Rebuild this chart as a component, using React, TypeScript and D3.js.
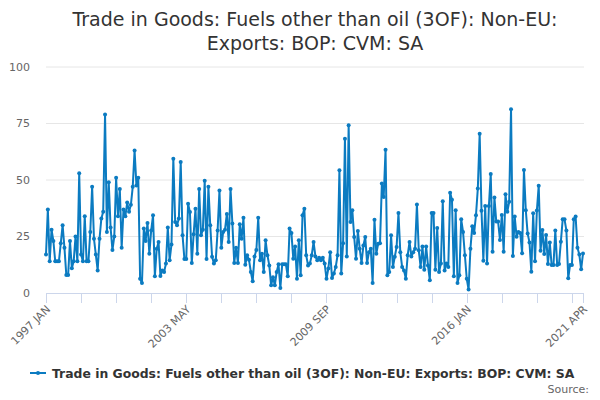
import React from 'react';
import * as d3 from 'd3';

// monthly series, 1997 JAN .. 2021 APR
const values1997to2000 = [
  17, 37, 14, 28, 23, 14, 14, 14, 22, 30, 20, 8,
  8, 23, 11, 14, 25, 14, 53, 17, 14, 34, 14, 14,
  27, 47, 24, 17, 10, 24, 33, 36, 79, 27, 49, 29,
  19, 25, 51, 34, 46, 20, 37, 34, 40, 36, 39, 47,
];
const values2001to2004 = [
  63, 47.6, 51, 6.3, 4.4, 28.5, 23, 31, 17.4, 27.7, 34.4, 7.4,
  19.6, 22.6, 7.5, 10, 9.3, 13, 29, 14.5, 21.5, 59.4, 31.4, 30,
  33, 58, 25.5, 15, 15, 39.5, 35.8, 13.3, 26, 37.3, 17.4, 46,
  25.5, 28, 49.7, 15, 47, 30, 16, 13, 14.5, 27.7, 45.4, 20,
];
const values2005to2008 = [
  27, 28, 35, 22.6, 46, 30.7, 13.3, 20, 13.3, 30.4, 24, 33.3,
  12.5, 16.7, 14.7, 9.3, 5.2, 16.2, 19, 33.3, 14.5, 17.4, 9.3, 23.3,
  16.7, 12.2, 3.4, 7, 3.4, 9.3, 12.7, 2.2, 12.7, 12.7, 12.7, 7.4,
  28.5, 26.5, 15.2, 20.6, 6.3, 23.3, 7.8, 34.4, 37.3, 16.7, 12.2, 13,
];
const values2009to2012 = [
  16.7, 22.6, 16.2, 14.5, 15.6, 14.5, 15.6, 13, 6.3, 10.8, 18, 6.6,
  8.6, 11.5, 16.7, 54.3, 8.6, 22, 68.3, 16.2, 74.2, 31.4, 36.6, 24.8,
  15.2, 27.4, 19.6, 13.3, 21, 24.8, 13.3, 18, 19.6, 4.4, 32.4, 17.4,
  21.8, 22, 48.4, 42.5, 63.4, 7.8, 9.3, 25.5, 11.5, 16, 20.4, 35.4,
];
const values2013to2016 = [
  18, 11.5, 10, 6.3, 16.7, 22.6, 16.2, 18, 19.6, 39.2, 18.9, 11.5,
  20.6, 10.3, 20.6, 12.2, 5.6, 35.4, 35.4, 10.3, 28.8, 9.3, 13, 40.6,
  10, 13, 11.5, 44.4, 41.3, 7.4, 36.6, 4.4, 7.8, 32.6, 27, 16.7,
  6.3, 1.5, 19.6, 29.5, 26.5, 34.4, 46.2, 70.5, 36.4, 14.3, 38.5, 13.1,
];
const values2017to2021 = [
  38.5, 52.7, 18.3, 42.3, 31.6, 31.6, 23.5, 34.5, 18.3, 43.7, 36, 40.4,
  81.3, 16.4, 33.8, 24.9, 27, 26.5, 17.6, 54.4, 36.6, 26.3, 22.4, 9.4,
  35.3, 14, 36.5, 47.5, 18.7, 27.9, 17.3, 25.7, 12.8, 22.3, 12.4, 12.4,
  27.6, 12.4, 12.8, 22.7, 32.6, 32.6, 27.6, 6.5, 12.4, 12.4, 32.6, 33.8,
  20, 17, 10.5, 17.5,
];

const firstMonth = new Date(1997, 0, 1);
const lastMonth = new Date(2021, 3, 1);
const shownTickLabels = ['1997 JAN', '2003 MAY', '2009 SEP', '2016 JAN', '2021 APR'];
const tickStep = 19;
const yTicks = [0, 25, 50, 75, 100];

const titleLines = ['Trade in Goods: Fuels other than oil (3OF): Non-EU:', 'Exports: BOP: CVM: SA'];
const seriesName = 'Trade in Goods: Fuels other than oil (3OF): Non-EU: Exports: BOP: CVM: SA';

const BLUE = '#0b7bc1';
const FONT = '"DejaVu Sans", Verdana, sans-serif';

const App: React.FC = () => {
  const svgRef = React.useRef<SVGSVGElement>(null);

  React.useEffect(() => {
    if (!svgRef.current) return;
    const svg = d3.select(svgRef.current);
    svg.selectAll('*').remove();

    const values = [
      ...values1997to2000, ...values2001to2004, ...values2005to2008,
      ...values2009to2012, ...values2013to2016, ...values2017to2021,
    ];
    const fmt = d3.timeFormat('%Y %b');
    const categories = d3.timeMonth
      .range(firstMonth, d3.timeMonth.offset(lastMonth, 1))
      .map(m => fmt(m).toUpperCase());
    const data = categories.map((c, i) => ({ c, v: values[i] }));

    const left = 46, right = 584, top = 67, bottom = 293;
    const x = d3.scalePoint<string>().domain(categories).range([left, right - 1]);
    const y = d3.scaleLinear().domain([0, 100]).range([bottom, top]);

    // title
    svg.append('g')
      .selectAll('text')
      .data(titleLines)
      .enter().append('text')
      .attr('x', (left + right) / 2)
      .attr('y', (d, i) => 26 + i * 24)
      .attr('text-anchor', 'middle')
      .attr('font-size', '19px')
      .attr('fill', '#333')
      .text(d => d);

    // grid + y labels
    const grid = svg.append('g');
    grid.selectAll('line')
      .data(yTicks.filter(t => t > 0))
      .enter().append('line')
      .attr('x1', left).attr('x2', right)
      .attr('y1', d => y(d)).attr('y2', d => y(d))
      .attr('stroke', '#e6e6e6')
      .attr('stroke-width', 1);
    grid.selectAll('text')
      .data(yTicks)
      .enter().append('text')
      .attr('x', 30)
      .attr('y', d => y(d))
      .attr('dy', '0.35em')
      .attr('text-anchor', 'end')
      .attr('font-size', '11px')
      .attr('fill', '#666')
      .text(d => d);

    // x axis
    const tickIdx = d3.range(0, categories.length, tickStep);
    if (tickIdx[tickIdx.length - 1] !== categories.length - 1) tickIdx.push(categories.length - 1);
    const xa = svg.append('g');
    xa.append('line')
      .attr('x1', left).attr('x2', right)
      .attr('y1', bottom + 0.5).attr('y2', bottom + 0.5)
      .attr('stroke', '#ccd6eb');
    xa.selectAll('.tick')
      .data(tickIdx)
      .enter().append('line')
      .attr('class', 'tick')
      .attr('x1', d => Math.round(x(categories[d]) || 0) + 0.5)
      .attr('x2', d => Math.round(x(categories[d]) || 0) + 0.5)
      .attr('y1', bottom).attr('y2', bottom + 10)
      .attr('stroke', '#ccd6eb');
    xa.selectAll('.lbl')
      .data(tickIdx.filter(i => shownTickLabels.includes(categories[i])))
      .enter().append('text')
      .attr('class', 'lbl')
      .attr('transform', d => `translate(${(x(categories[d]) || 0) + 5},${bottom + 17}) rotate(-45)`)
      .attr('text-anchor', 'end')
      .attr('font-size', '11px')
      .attr('fill', '#666')
      .text(d => categories[d]);

    // series
    const line = d3.line<{ c: string; v: number }>()
      .x(d => x(d.c) || 0)
      .y(d => y(d.v));
    svg.append('path')
      .datum(data)
      .attr('d', line)
      .attr('fill', 'none')
      .attr('stroke', BLUE)
      .attr('stroke-width', 2)
      .attr('stroke-linejoin', 'round');
    svg.append('g')
      .selectAll('circle')
      .data(data)
      .enter().append('circle')
      .attr('cx', d => x(d.c) || 0)
      .attr('cy', d => y(d.v))
      .attr('r', 2)
      .attr('fill', BLUE);

    // legend
    const lg = svg.append('g');
    lg.append('line')
      .attr('x1', 30).attr('x2', 46)
      .attr('y1', 373).attr('y2', 373)
      .attr('stroke', BLUE).attr('stroke-width', 2);
    lg.append('circle')
      .attr('cx', 38).attr('cy', 373).attr('r', 2)
      .attr('fill', BLUE);
    lg.append('text')
      .attr('x', 52).attr('y', 377.5)
      .attr('font-size', '12.4px')
      .attr('font-weight', 'bold')
      .attr('fill', '#333')
      .text(seriesName);

    svg.append('text')
      .attr('x', 589).attr('y', 393)
      .attr('text-anchor', 'end')
      .attr('font-size', '11px')
      .attr('fill', '#666')
      .text('Source:');
  }, []);

  return (
    <div style={{ position: 'absolute', left: 0, top: 0 }}>
      <svg ref={svgRef} width={600} height={400} style={{ display: 'block', fontFamily: FONT }} />
    </div>
  );
};

export default App;
